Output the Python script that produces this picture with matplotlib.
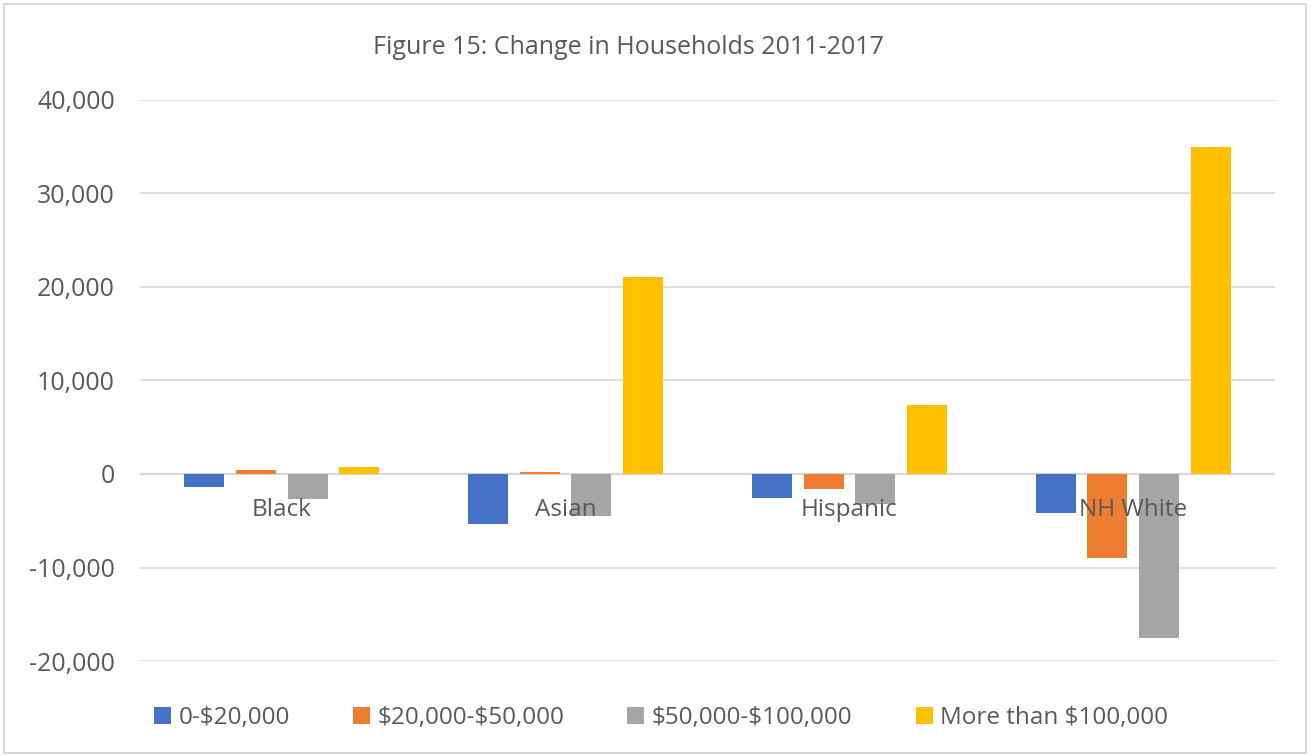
import matplotlib
matplotlib.use("Agg")
import matplotlib.pyplot as plt
from matplotlib.patches import Rectangle
from matplotlib.ticker import FuncFormatter
import numpy as np

plt.rcParams["font.family"] = ["Open Sans", "DejaVu Sans"]
plt.rcParams["text.parse_math"] = False

groups = ["Black", "Asian", "Hispanic", "NH White"]
series_names = ["0-$20,000", "$20,000-$50,000", "$50,000-$100,000", "More than $100,000"]
under_20k = [-1350, -5350, -2570, -4180]
from_20k_to_50k = [400, 250, -1600, -8940]
from_50k_to_100k = [-2650, -4450, -3200, -17510]
over_100k = [800, 21050, 7400, 35000]
colors = ["#4472C4", "#ED7D31", "#A5A5A5", "#FFC000"]
text_color = "#595959"
grid_color = "#D9D9D9"

fig = plt.figure(figsize=(13.11, 7.56), dpi=100)
ax = fig.add_axes([140 / 1311, 1 - 661 / 756, 1135 / 1311, 561 / 756])

x = np.arange(len(groups))
stride = 0.182
width = 0.141
all_series = [under_20k, from_20k_to_50k, from_50k_to_100k, over_100k]
for j, (name, vals, col) in enumerate(zip(series_names, all_series, colors)):
    ax.bar(x + (j - 1.5) * stride, vals, width, color=col, label=name, zorder=3)

ax.set_xlim(-0.5, len(groups) - 0.5)
ax.set_ylim(-20000, 40000)
ax.set_yticks(np.arange(-20000, 40001, 10000))
ax.yaxis.set_major_formatter(FuncFormatter(lambda v, _: f"{int(v):,}"))
ax.tick_params(axis="y", length=0, pad=18, labelsize=18, labelcolor=text_color)
ax.set_xticks([])
ax.grid(axis="y", color=grid_color, linewidth=1.2, zorder=0)
for s in ax.spines.values():
    s.set_visible(False)
ax.axhline(0, color=grid_color, linewidth=1.6, zorder=2)

# category names sit just under the zero line
for xi, g in zip(x, groups):
    ax.annotate(g, (xi, 0), xytext=(0, -26), textcoords="offset points",
                ha="center", va="center", fontsize=17.5, color=text_color, zorder=5)

fig.text(628 / 1311, 1 - 47 / 756, "Figure 15: Change in Households 2011-2017",
         ha="center", va="center", fontsize=18, color=text_color)

fig.legend(loc="center", bbox_to_anchor=(661 / 1311, 1 - 718 / 756), ncol=4,
           frameon=False, fontsize=17.5, labelcolor=text_color,
           handlelength=0.7, handleheight=0.7, handletextpad=0.3, columnspacing=2.6)

fig.patches.append(Rectangle((4 / 1311, 3 / 756), 1302 / 1311, 749 / 756,
                             transform=fig.transFigure, fill=False,
                             edgecolor=grid_color, linewidth=1.5))

fig.savefig("out.png", dpi=100, facecolor="white")
